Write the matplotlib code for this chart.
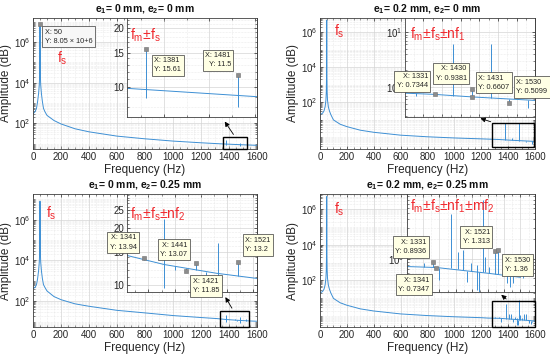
import numpy as np
import matplotlib.pyplot as plt
from matplotlib.ticker import FixedLocator, LogLocator, NullFormatter, AutoMinorLocator, LogFormatterSciNotation
from matplotlib.patches import Rectangle, FancyArrowPatch

plt.rcParams['font.family'] = ['Liberation Sans', 'DejaVu Sans']
plt.rcParams['mathtext.fontset'] = 'custom'
plt.rcParams['mathtext.rm'] = 'Liberation Sans'
plt.rcParams['mathtext.it'] = 'Liberation Sans:italic'
plt.rcParams['mathtext.bf'] = 'Liberation Sans:bold'

# ---------------- data ----------------
titles = [r'e$_\mathbf{1}$= 0 mm, e$_\mathbf{2}$= 0 mm',
          r'e$_\mathbf{1}$= 0.2 mm, e$_\mathbf{2}$= 0 mm',
          r'e$_\mathbf{1}$= 0 mm, e$_\mathbf{2}$= 0.25 mm',
          r'e$_\mathbf{1}$= 0.2 mm, e$_\mathbf{2}$= 0.25 mm']
main_labels = [r'f$_\mathrm{s}$'] * 4
inset_labels = [r'f$_\mathrm{m}$±f$_\mathrm{s}$',
                r'f$_\mathrm{m}$±f$_\mathrm{s}$±nf$_\mathrm{1}$',
                r'f$_\mathrm{m}$±f$_\mathrm{s}$±nf$_\mathrm{2}$',
                r'f$_\mathrm{m}$±f$_\mathrm{s}$±nf$_\mathrm{1}$±mf$_\mathrm{2}$']

# spectrum baseline (Hz, amplitude)
f1 = [0, 15, 25, 33, 40, 45, 48, 49, 50, 51, 52, 55, 60, 67, 75, 85, 100, 150, 200, 300,
      400, 600, 800, 1000, 1200, 1360, 1500, 1600]
a1 = [300, 380, 550, 1200, 3000, 8000, 3e4, 1e5, 8.05e6, 1e5, 3e4, 8000, 3000, 1200, 550, 380,
      250, 140, 95, 55, 39, 24, 17.7, 13.7, 11.3, 9.9, 9.0, 8.5]
f2 = [0, 20, 30, 38, 44, 47, 49, 50, 51, 53, 56, 62, 70, 80, 100, 150, 200, 300, 400, 600,
      800, 1000, 1200, 1331, 1431, 1600]
a2 = [19, 24, 32, 55, 130, 400, 5000, 5e6, 5000, 400, 130, 55, 32, 20, 9.7, 5.5, 4.0, 2.5, 1.9,
      1.3, 1.05, 0.9, 0.8, 0.7344, 0.6607, 0.57]
f3 = [0, 15, 25, 33, 40, 45, 48, 49, 50, 51, 52, 55, 60, 67, 75, 85, 100, 150, 200, 300, 400,
      600, 800, 1000, 1200, 1309, 1380, 1480, 1557, 1600]
a3 = [420, 480, 650, 1300, 3200, 8500, 3e4, 1e5, 8e6, 1e5, 3e4, 8500, 3200, 1300, 650, 480,
      320, 170, 120, 75, 57, 36, 27, 20, 16, 14.3, 12.8, 11.5, 10.8, 10.5]
f4 = [0, 20, 30, 38, 44, 47, 49, 50, 51, 53, 56, 62, 70, 80, 100, 150, 200, 300, 400, 600,
      800, 1000, 1200, 1250, 1341, 1500, 1600]
a4 = [19, 24, 32, 55, 130, 400, 5000, 5e6, 5000, 400, 130, 55, 32, 20, 9.7, 5.5, 4.0, 2.5, 1.9,
      1.3, 1.05, 0.9, 0.8, 0.76, 0.7347, 0.6, 0.52]

# sideband spikes: frequency, lower end, upper end
sf1 = [1381, 1481]
slo1 = [8.9, 8.0]
shi1 = [15.61, 11.5]
sf2 = [1281, 1380, 1430, 1480, 1530, 1580]
slo2 = [0.69, 0.70, 0.66, 0.62, 0.5099, 0.41]
shi2 = [0.77, 6.1, 0.9381, 6.1, 0.61, 0.58]
sf3 = [1341, 1380, 1400, 1421, 1441, 1460, 1482, 1521]
slo3 = [13.5, 9.6, 12.0, 11.85, 12.0, 11.3, 8.5, 11.1]
shi3 = [13.94, 22.2, 12.5, 12.3, 13.07, 11.75, 16.7, 13.2]
sf4 = [1301, 1331, 1350, 1385, 1408, 1422, 1435, 1448, 1467, 1472, 1483, 1491, 1504, 1521,
       1530, 1558, 1568, 1578, 1609]
slo4 = [0.745, 0.74, 0.48, 0.71, 0.69, 0.68, 0.44, 0.65, 0.33, 0.3, 0.62, 0.62, 0.6, 0.59,
        0.58, 0.42, 0.37, 0.43, 0.51]
shi4 = [0.85, 0.8936, 0.73, 4.8, 1.27, 1.35, 0.66, 0.85, 0.8, 0.63, 8.0, 1.07, 0.75, 1.313,
        1.36, 0.56, 0.55, 0.54, 0.6]

# data tips
tipx_main = [50, None, None, None]
tipy_main = [8.05e6, None, None, None]
tipx1 = [1381, 1481]
tipy1 = [15.61, 11.5]
tipx2 = [1331, 1430, 1431, 1530]
tipy2 = [0.7344, 0.9381, 0.6607, 0.5099]
tipx3 = [1341, 1441, 1421, 1521]
tipy3 = [13.94, 13.07, 11.85, 13.2]
tipx4 = [1331, 1341, 1521, 1530]
tipy4 = [0.8936, 0.7347, 1.313, 1.36]

xticks = [0, 200, 400, 600, 800, 1000, 1200, 1400, 1600]

# ---------------- layout (pixels: left, top, right, bottom) ----------------
W, H = 550, 357
main_px = [(33, 18, 257, 149), (320, 18, 535, 149), (33, 194, 257, 327), (320, 194, 535, 327)]
inset_px = [(127, 18, 257, 117), (405, 18, 535, 117), (127, 194, 257, 292), (407, 194, 535, 292)]
main_ylim = [(5.6, 1.5e7), (0.21, 6.6e6), (5.5, 1.8e7), (0.24, 7e6)]
inset_xlim = [(1360, 1502), (1251, 1599), (1309, 1557), (1250, 1645)]
inset_ylim = [(7.1, 22.4), (0.285, 18), (9.15, 30.3), (0.31, 9.8)]
inset_yt = [[10, 15, 20], [1, 10], [10, 15, 20, 25], [1]]
inset_ytl = [['10', '15', '20'], [r'$10^{0}$', r'$10^{1}$'], ['10', '15', '20', '25'], [r'$10^{0}$']]
box_x = [(1355, 1526), (1280, 1593), (1334, 1541), (1280, 1600)]
box_y = [(5.6, 22.4), (0.29, 6.8), (5.5, 35), (0.24, 7.1)]
arrow_tail = [(1443, 22.4), (1290, 6.8), (1431, 35), (1401, 7.1)]
arrow_head = [(0.74, -0.023), (0.56, -0.005), (0.746, -0.028), (0.72, -0.01)]
flab_pos = [(0.107, 0.756), (0.065, 0.962), (0.058, 0.92), (0.065, 0.947)]
ilab_pos = [(0.023, 0.91), (0.038, 0.92), (0.023, 0.88), (0.023, 0.96)]
tip_off = [[(8, -8, 'left', 'top'), (-7, 7, 'right', 'bottom')],
           [(-7, 5, 'right', 'bottom'), (-5, 7, 'right', 'bottom'), (6, 6, 'left', 'bottom'), (7, 8, 'left', 'bottom')],
           [(-7, 7, 'right', 'bottom'), (-9, 5, 'right', 'bottom'), (7, -7, 'left', 'top'), (7, 9, 'left', 'bottom')],
           [(-7, 7, 'right', 'bottom'), (-7, -9, 'right', 'top'), (-5, 6, 'right', 'bottom'), (7, -7, 'left', 'top')]]

blue = '#3d8fd4'
dark = '#262626'
red = '#f0282d'


def rect(px):
    l, t, r, b = px
    return [l / W, 1 - b / H, (r - l) / W, (b - t) / H]


def style(ax):
    for s in ax.spines.values():
        s.set_color('#404040')
        s.set_linewidth(0.6)
    ax.tick_params(which='both', direction='in', top=True, right=True, colors=dark,
                   labelsize=7, pad=2)
    ax.tick_params(which='major', length=2.5, width=0.5)
    ax.tick_params(which='minor', length=1.2, width=0.4)
    ax.grid(True, which='major', color='#d4d4d4', lw=0.5)
    ax.grid(True, which='minor', color='#dadada', lw=0.4, ls=':')
    ax.set_axisbelow(True)


def fmt(v):
    if v >= 1e5:
        return '8.05 × 10+6'
    return f'{v:g}'


def tip(ax, x, y, off, bg):
    ax.plot([x], [y], 's', ms=3, mfc='#8c8c8c', mec='#707070', mew=0.4, zorder=5)
    dx, dy, ha, va = off
    ax.annotate(f'X: {x}\nY: {fmt(y)}', (x, y), xytext=(dx, dy), textcoords='offset pixels',
                ha=ha, va=va, fontsize=5.3, color=dark, linespacing=1.45, zorder=6,
                bbox=dict(boxstyle='square,pad=0.35', fc=bg, ec='#3a3a3a', lw=0.5))


fig = plt.figure(figsize=(W / 100, H / 100), dpi=100)

freqs = [f1, f2, f3, f4]
amps = [a1, a2, a3, a4]
spk_f = [sf1, sf2, sf3, sf4]
spk_lo = [slo1, slo2, slo3, slo4]
spk_hi = [shi1, shi2, shi3, shi4]
tips_x = [tipx1, tipx2, tipx3, tipx4]
tips_y = [tipy1, tipy2, tipy3, tipy4]

for i in range(4):
    # main spectrum
    ax = fig.add_axes(rect(main_px[i]))
    ax.plot(freqs[i], amps[i], color=blue, lw=0.7)
    ax.vlines(spk_f[i], spk_lo[i], spk_hi[i], color=blue, lw=0.7)
    ax.set_yscale('log')
    ax.set_xlim(0, 1600)
    ax.set_ylim(*main_ylim[i])
    ax.set_xticks(xticks)
    ax.xaxis.set_minor_locator(AutoMinorLocator(4))
    ax.yaxis.set_major_locator(FixedLocator([1e2, 1e4, 1e6]))
    ax.yaxis.set_major_formatter(LogFormatterSciNotation())
    ax.yaxis.set_minor_locator(LogLocator(base=10, subs=np.arange(1, 10), numticks=30))
    ax.yaxis.set_minor_formatter(NullFormatter())
    style(ax)
    ax.set_xlabel('Frequency (Hz)', fontsize=8.5, color=dark, labelpad=1.5)
    ax.set_ylabel('Amplitude (dB)', fontsize=8.5, color=dark, labelpad=1)
    ax.set_title(titles[i], fontsize=7.5, fontweight='bold', color='#111111', pad=4)
    ax.text(*flab_pos[i], main_labels[i], transform=ax.transAxes, color=red, fontsize=10,
            ha='left', va='top')
    if tipx_main[i] is not None:
        tip(ax, tipx_main[i], tipy_main[i], (5, -5, 'left', 'top'), '#f7f7f7')
    x0, x1 = box_x[i]
    y0, y1 = box_y[i]
    ax.add_patch(Rectangle((x0, y0), x1 - x0, y1 - y0, fill=False, ec='black', lw=1.0,
                           zorder=4, clip_on=False))

    # zoomed inset
    ins = fig.add_axes(rect(inset_px[i]))
    ins.set_facecolor('white')
    ins.plot(freqs[i], amps[i], color=blue, lw=0.7)
    ins.vlines(spk_f[i], spk_lo[i], spk_hi[i], color=blue, lw=0.7)
    ins.set_yscale('log')
    ins.set_xlim(*inset_xlim[i])
    ins.set_ylim(*inset_ylim[i])
    ins.xaxis.set_major_locator(FixedLocator(np.arange(1250, 1700, 50)))
    ins.xaxis.set_minor_locator(AutoMinorLocator(2))
    ins.set_xticklabels([])
    ins.yaxis.set_major_locator(FixedLocator(inset_yt[i]))
    ins.yaxis.set_major_formatter(plt.FixedFormatter(inset_ytl[i]))
    if i in (0, 2):
        ins.yaxis.set_minor_locator(FixedLocator(np.arange(7, 31)))
    else:
        ins.yaxis.set_minor_locator(LogLocator(base=10, subs=np.arange(1, 10), numticks=30))
    ins.yaxis.set_minor_formatter(NullFormatter())
    style(ins)
    ins.text(*ilab_pos[i], inset_labels[i], transform=ins.transAxes, color=red, fontsize=10,
             ha='left', va='top')
    for x, y, off in zip(tips_x[i], tips_y[i], tip_off[i]):
        tip(ins, x, y, off, '#ffffe4')

    # arrow from the zoom box to the inset
    fig.patches.append(FancyArrowPatch(
        posA=ax.transData.transform(arrow_tail[i]),
        posB=ins.transAxes.transform(arrow_head[i]),
        transform=None, arrowstyle='-|>', mutation_scale=7, color='black', lw=0.6))

fig.savefig('out.png', dpi=100)
